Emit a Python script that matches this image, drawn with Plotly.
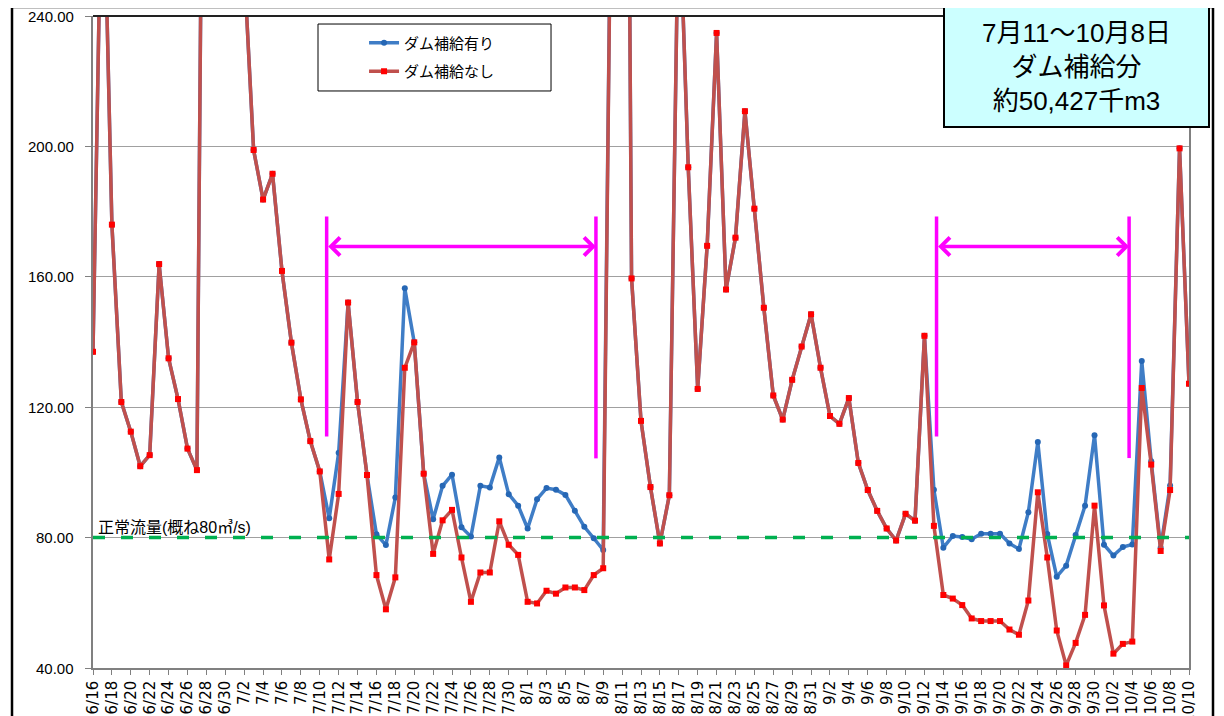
import plotly.graph_objects as go
import pandas as pd

# ---- data -------------------------------------------------------------
dates = [f"{d.month}/{d.day}" for d in pd.date_range("2011-06-16", "2011-10-10")]

# ダム補給なし (red)
flow_without = [
    137.0, 300.0, 176.0, 121.6, 112.5, 101.9, 105.3, 163.9, 135.0, 122.5,
    107.3, 100.7, 460.0, 420.0, 360.0, 300.0, 255.0, 198.9, 183.7, 191.6,
    161.8, 139.8, 122.4, 109.6, 100.3, 73.3, 93.4, 152.1, 121.6, 99.2,
    68.5, 58.0, 67.8, 132.1, 139.9, 99.6, 75.0, 85.3, 88.5, 73.9,
    60.3, 69.3, 69.3, 85.0, 77.8, 74.7, 60.3, 59.8, 63.7, 62.8,
    64.7, 64.7, 63.9, 68.5, 70.6, 330.0, 600.0, 159.5, 115.8, 95.5,
    78.2, 93.0, 280.0, 193.6, 125.6, 169.5, 234.8, 156.1, 172.0, 210.8,
    180.9, 150.5, 123.6, 116.2, 128.4, 138.6, 148.5, 132.1, 117.3, 114.9,
    122.8, 102.9, 94.6, 88.2, 82.8, 79.1, 87.3, 85.2, 141.9, 83.6,
    62.4, 61.3, 59.3, 55.2, 54.4, 54.4, 54.4, 51.8, 50.2, 60.7,
    93.9, 73.9, 51.5, 40.8, 47.7, 56.3, 89.8, 59.2, 44.4, 47.4,
    48.1, 125.9, 102.4, 75.9, 94.6, 199.4, 127.2,
]

# ダム補給有り (blue)
flow_with = [
    137.0, 300.0, 176.0, 121.6, 112.5, 101.9, 105.3, 163.9, 135.0, 122.5,
    107.3, 100.7, 460.0, 420.0, 360.0, 300.0, 255.0, 198.9, 183.7, 191.6,
    161.8, 139.8, 122.4, 109.6, 100.3, 85.9, 106.0, 152.1, 121.6, 99.2,
    81.0, 77.7, 92.3, 156.5, 139.9, 99.6, 85.6, 95.9, 99.3, 83.2,
    80.3, 95.9, 95.4, 104.6, 93.3, 89.8, 82.8, 91.8, 95.2, 94.7,
    93.1, 88.2, 83.3, 79.8, 76.2, 330.0, 600.0, 159.5, 115.8, 95.5,
    78.2, 93.0, 280.0, 193.6, 125.6, 169.5, 234.8, 156.1, 172.0, 210.8,
    180.9, 150.5, 123.6, 116.2, 128.4, 138.6, 148.5, 132.1, 117.3, 114.9,
    122.8, 102.9, 94.6, 88.2, 82.8, 79.1, 87.3, 85.2, 141.9, 94.7,
    76.9, 80.5, 80.2, 79.5, 81.2, 81.2, 81.2, 78.2, 76.5, 87.8,
    109.3, 81.1, 68.0, 71.4, 80.8, 89.8, 111.4, 77.8, 74.5, 77.1,
    77.9, 134.2, 103.4, 76.9, 96.0, 199.4, 127.2,
]

normal_flow = 80
y_ticks = [40, 80, 120, 160, 200, 240]

# supply periods (positions on the day axis) and bracket heights
periods = [(24.73, 53.23), (89.28, 109.66)]
bracket_bottoms = [(111.0, 104.3), (111.0, 104.4)]
bracket_top = 178.5
arrow_y = 169.3

x_idx = list(range(len(dates)))
tick_idx = x_idx[::2]
tick_txt = dates[::2]

JP = "Liberation Sans, Noto Sans CJK JP"

fig = go.Figure()
fig.add_trace(go.Scatter(
    x=x_idx, y=flow_with, name="ダム補給有り", mode="lines+markers",
    line=dict(color="#3F7DC6", width=3.5),
    marker=dict(symbol="circle", size=6, color="#2667B5"),
    legendgroup="a",
))
fig.add_trace(go.Scatter(
    x=x_idx, y=flow_without, name="ダム補給なし", mode="lines+markers",
    line=dict(color="#C0504D", width=3.5),
    marker=dict(symbol="square", size=6, color="#FF0000"),
    legendgroup="b",
))

shapes = []
# normal flow line
shapes.append(dict(type="line", xref="x", yref="y", x0=x_idx[0], x1=x_idx[-1],
                   y0=normal_flow, y1=normal_flow,
                   line=dict(color="#00B050", width=3.5, dash="12px,16px")))
# magenta brackets
for (xa, xb), (ba, bb) in zip(periods, bracket_bottoms):
    shapes.append(dict(type="line", xref="x", yref="y", x0=xa, x1=xa, y0=ba, y1=bracket_top,
                       line=dict(color="#FF00FF", width=3.5)))
    shapes.append(dict(type="line", xref="x", yref="y", x0=xb, x1=xb, y0=bb, y1=bracket_top,
                       line=dict(color="#FF00FF", width=3.5)))
# plot-area top border
shapes.append(dict(type="line", xref="paper", yref="paper", x0=0, x1=1, y0=1, y1=1,
                   line=dict(color="#222222", width=2)))
# outer chart frame (left, top, right edges)
FL, FR, FT, FB = -0.0739, 1.0219, 1.0138, -0.1
for (fx0, fy0, fx1, fy1) in [(FL, FB, FL, FT), (FL, FT, FR, FT), (FR, FB, FR, FT)]:
    shapes.append(dict(type="line", xref="paper", yref="paper", x0=fx0, y0=fy0,
                       x1=fx1, y1=fy1, line=dict(color="black", width=2.5)))
# legend box
shapes.append(dict(type="rect", xref="paper", yref="paper", x0=0.2053, x1=0.4179,
                   y0=0.885, y1=0.9877, line=dict(color="black", width=1),
                   fillcolor="white", layer="above"))

annotations = []
for xa, xb in periods:
    annotations.append(dict(x=xb, y=arrow_y, ax=xa, ay=arrow_y, xref="x", yref="y",
                            axref="x", ayref="y", text="", showarrow=True,
                            arrowhead=4, startarrowhead=4, arrowside="end+start",
                            arrowsize=1, startarrowsize=1,
                            arrowwidth=3.5, arrowcolor="#FF00FF"))
# y tick labels
for v in y_ticks:
    annotations.append(dict(x=0, y=v, xref="paper", yref="y", text=f"{v:.2f}",
                            showarrow=False, xanchor="right", yanchor="middle",
                            xshift=-17, font=dict(family=JP, size=15, color="black")))
annotations.append(dict(x=x_idx[0], y=normal_flow, xref="x", yref="y",
                        text="正常流量(概ね80㎥/s)", showarrow=False,
                        xanchor="left", yanchor="bottom", xshift=3, yshift=0,
                        font=dict(family=JP, size=16, color="black")))
annotations.append(dict(x=0.8974, y=0.9218, xref="paper", yref="paper",
                        text="7月11～10月8日<br>ダム補給分<br>約50,427千m3",
                        showarrow=False, xanchor="center", yanchor="middle",
                        width=263, height=118, align="center",
                        bgcolor="#CCFFFF", bordercolor="black", borderwidth=2, borderpad=0,
                        font=dict(family=JP, size=26, color="black")))

fig.update_layout(
    width=1224, height=716,
    margin=dict(l=85, r=43, t=8, b=56, autoexpand=False),
    paper_bgcolor="white", plot_bgcolor="white",
    shapes=shapes, annotations=annotations,
    showlegend=True,
    legend=dict(x=0.2473, y=0.984, xanchor="left", yanchor="top",
                bgcolor="rgba(0,0,0,0)", borderwidth=0,
                font=dict(family=JP, size=15, color="black"),
                tracegroupgap=6),
    xaxis=dict(range=[x_idx[0], x_idx[-1]], tickmode="array", tickvals=tick_idx,
               ticktext=tick_txt, tickangle=-90, ticks="outside", ticklen=5,
               tickcolor="#808080", showgrid=False, zeroline=False, automargin=False,
               showline=True, linecolor="#808080", linewidth=1.5,
               tickfont=dict(family="DejaVu Sans", size=15, color="black")),
    yaxis=dict(range=[40, 240], tickmode="array", tickvals=y_ticks,
               showticklabels=False, ticks="outside", ticklen=6, tickcolor="#808080",
               automargin=False,
               showgrid=True, gridcolor="#A0A0A0", gridwidth=1, zeroline=False,
               showline=True, linecolor="#808080", linewidth=1.5, mirror=True),
)

fig.write_html("out.html")
